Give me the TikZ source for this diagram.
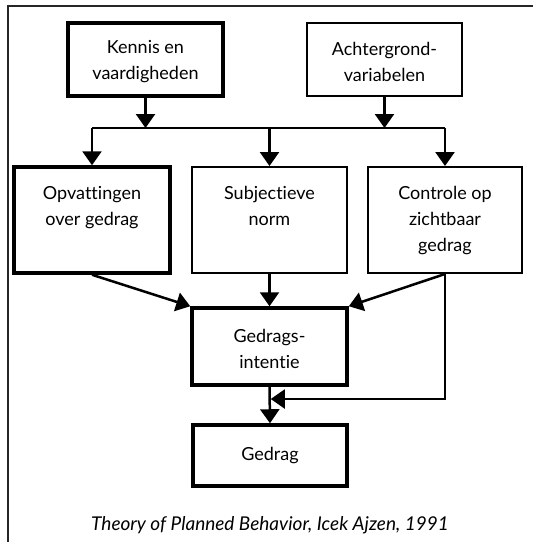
\documentclass[tikz,border=0pt]{standalone}
\usepackage{fontspec}
\setmainfont{Lato}[Ligatures={NoCommon}]
\usetikzlibrary{arrows.meta}
\begin{document}
\begin{tikzpicture}[x=1pt,y=-1pt,
  box/.style={draw=black,rectangle,align=center,inner sep=0pt,font=\fontsize{18}{26}\selectfont},
  thickbox/.style={box,line width=3.5pt},
  thinbox/.style={box,line width=2pt},
  arr/.style={line width=2.5pt,-{Triangle[length=14pt,width=19pt]}},
  ln/.style={line width=2.5pt}]
\useasboundingbox (0,0) rectangle (533,542);
% frame (open to the right and bottom)
\draw[line width=2pt,draw=black!85] (8,560) -- (8,6) -- (560,6);
\node[thickbox,minimum width=155,minimum height=73] (ken) at (145.5,59.5) {\strut Kennis en\\vaardigheden};
\node[thinbox,minimum width=155,minimum height=73] (ach) at (384.5,59.5) {\strut Achtergrond-\\variabelen};
\node[thickbox,minimum width=156,minimum height=106] (opv) at (92,220) {\strut Opvattingen\\over gedrag\\\strut};
\node[thinbox,minimum width=155,minimum height=106] (sub) at (269.5,220) {\strut Subjectieve\\norm\\\strut};
\node[thinbox,minimum width=154,minimum height=106] (con) at (445,220) {\strut Controle op\\zichtbaar\\gedrag\strut};
\node[thickbox,minimum width=155,minimum height=77] (int) at (269.5,346.5) {\strut Gedrags-\\intentie};
\node[thickbox,minimum width=154,minimum height=61] (ged) at (270,455.5) {Gedrag};
\coordinate (busL) at (opv.north |- 0,128);
\coordinate (busR) at (con.north |- 0,128);
\coordinate (busM) at (sub.north |- 0,128);
\coordinate (kenT) at (ken.south |- 0,128);
\coordinate (achT) at (ach.south |- 0,128);
\draw[ln] (busL) -- (busR);
\draw[arr] (ken.south) -- (kenT);
\draw[arr] (ach.south) -- (achT);
\draw[arr] (busL) -- (opv.north);
\draw[arr] (busM) -- (sub.north);
\draw[arr] (busR) -- (con.north);
\draw[arr] (opv.south) -- (int.north west);
\draw[arr] (sub.south) -- (int.north);
\draw[arr] (con.south) -- (int.north east);
\draw[arr] (int.south) -- (ged.north);
\coordinate (fbC) at (con.south |- 0,399);
\coordinate (fbE) at ([xshift=1.25pt]int.south |- 0,399);
\draw[line width=2pt,-{Triangle[length=14pt,width=19pt]}] (con.south) -- (fbC) -- (fbE);
\node[font=\fontsize{19}{22}\selectfont\itshape] (cap) at (270,525) {Theory of Planned Behavior, Icek Ajzen, 1991};
\end{tikzpicture}
\end{document}
